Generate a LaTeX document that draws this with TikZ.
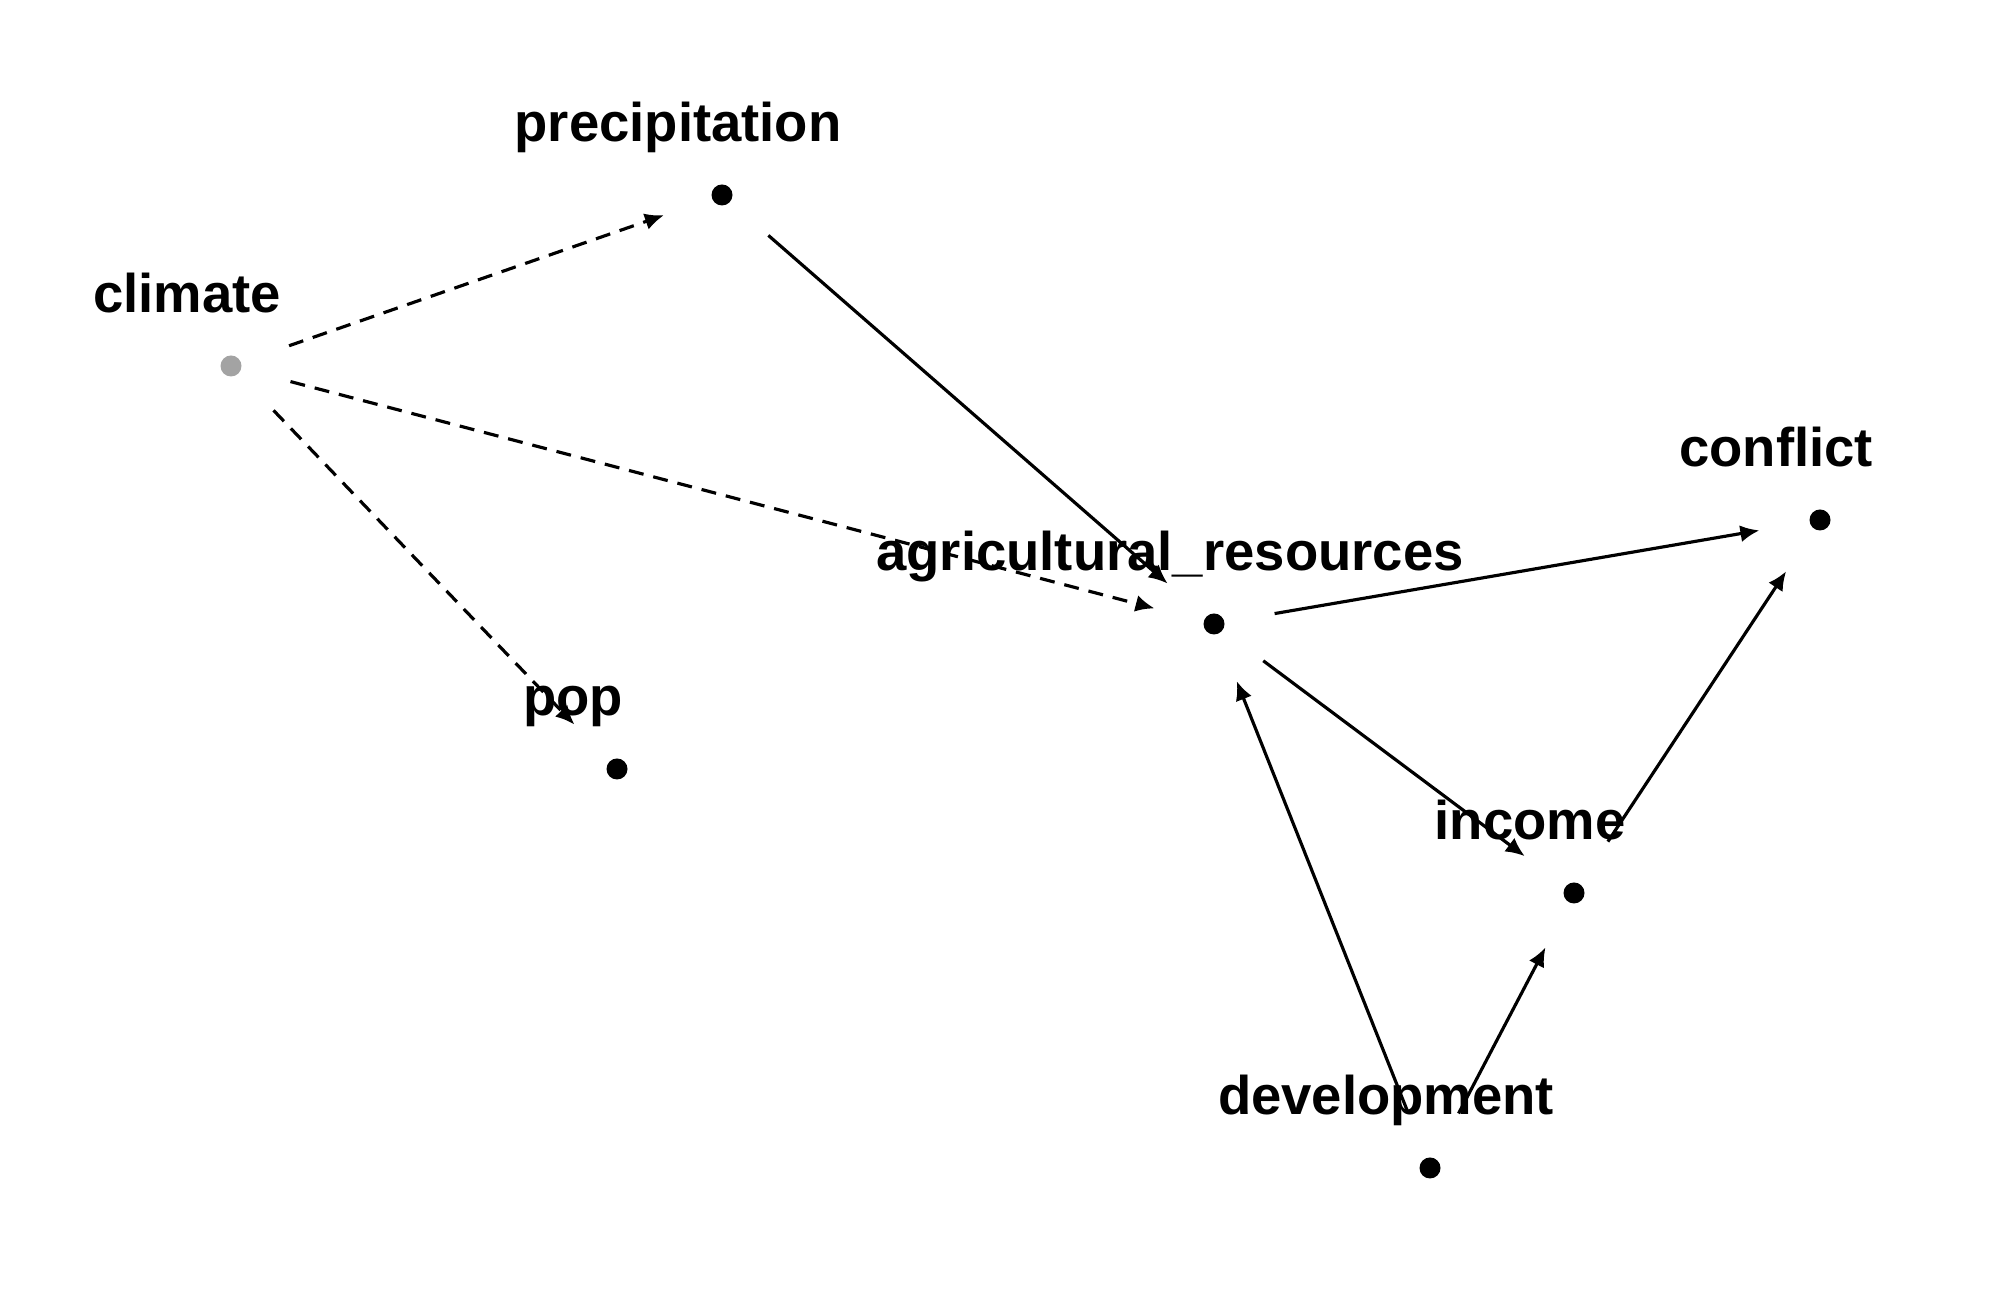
\documentclass[tikz,border=0pt]{standalone}
\usepackage{fontspec}
\setmainfont{Liberation Sans}
\usetikzlibrary{arrows.meta}
\definecolor{exogris}{HTML}{A3A3A3}
\tikzset{
	punto/.style={circle, fill=black, inner sep=0pt, minimum size=0.21cm, outer sep=0.51cm},
	exogeno/.style={punto, fill=exogris},
	etiqueta/.style={anchor=base, inner sep=0pt, font=\bfseries\fontsize{15.5pt}{18pt}\selectfont},
	flecha/.style={line width=0.9pt, -{Latex[length=0.19cm,width=0.17cm]}},
	latente/.style={flecha, dash pattern=on 0.15cm off 0.1cm}
}

\begin{document}
\begin{tikzpicture}
			\useasboundingbox (0,0) rectangle (20,13);
			
			\node[exogeno] (clim) at (2.31,9.34) {};
			\node[punto] (prec) at (7.22,11.05) {};
			\node[punto] (agri) at (12.14,6.76) {};
			\node[punto] (pop) at (6.17,5.31) {};
			\node[punto] (conf) at (18.20,7.80) {};
			\node[punto] (inc) at (15.74,4.07) {};
			\node[punto] (dev) at (14.30,1.32) {};
			
			\node[etiqueta] (clim-t) at (1.87,9.87) {climate};
			\node[etiqueta] (prec-t) at (6.78,11.58) {precipitation};
			\node[etiqueta] (agri-t) at (11.70,7.29) {agricultural\_resources};
			\node[etiqueta] (pop-t) at (5.73,5.84) {pop};
			\node[etiqueta] (conf-t) at (17.76,8.33) {conflict};
			\node[etiqueta] (inc-t) at (15.30,4.60) {income};
			\node[etiqueta] (dev-t) at (13.86,1.85) {development};
			
			\draw[latente] (clim) -- (prec);
			\draw[latente] (clim) -- (agri);
			\draw[latente] (clim) -- (pop);
			\draw[flecha] (prec) -- (agri);
			\draw[flecha] (agri) -- (conf);
			\draw[flecha] (agri) -- (inc);
			\draw[flecha] (inc) -- (conf);
			\draw[flecha] (dev) -- (agri);
			\draw[flecha] (dev) -- (inc);
		\end{tikzpicture}
\end{document}
